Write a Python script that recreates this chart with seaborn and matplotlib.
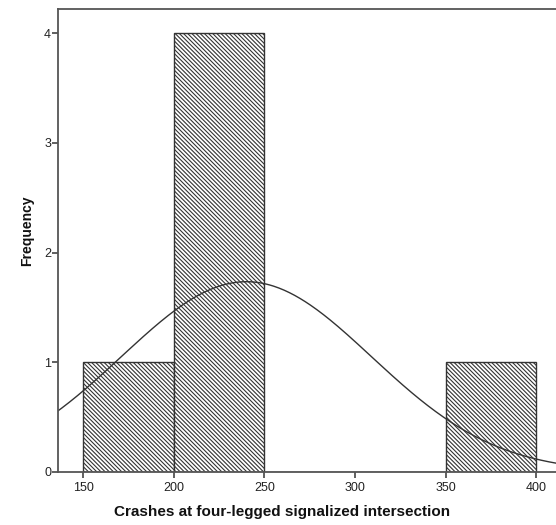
import numpy as np
import pandas as pd
import matplotlib
matplotlib.use("Agg")
import matplotlib.pyplot as plt
import seaborn as sns

# Data
bin_edges = [150, 200, 250, 300, 350, 400]
bin_centers = [175, 225, 275, 325, 375]
counts = [1, 4, 0, 0, 1]
fit_mean = 240.0
fit_sd = 69.0
n_total = 6
x_ticks = [150, 200, 250, 300, 350, 400]
y_ticks = [0, 1, 2, 3, 4]
x_label = "Crashes at four-legged signalized intersection"
y_label = "Frequency"

sns.set_theme(style="ticks")
plt.rcParams['font.family'] = ['Liberation Sans', 'DejaVu Sans']
plt.rcParams['hatch.linewidth'] = 0.8
plt.rcParams['hatch.color'] = '#303030'

fig = plt.figure(figsize=(5.56, 5.25), dpi=100)
ax = fig.add_axes([58 / 556, 53 / 525, 1 - 58 / 556 + 0.01, (472 - 9) / 525])

df = pd.DataFrame({"x": bin_centers, "w": counts})
sns.histplot(data=df, x="x", weights="w", bins=bin_edges, ax=ax,
             color="white", edgecolor="#333333", linewidth=1.0, alpha=1,
             hatch="\\" * 8)

xs = np.linspace(130, 420, 400)
binw = bin_edges[1] - bin_edges[0]
ys = n_total * binw / (fit_sd * np.sqrt(2 * np.pi)) * np.exp(-0.5 * ((xs - fit_mean) / fit_sd) ** 2)
sns.lineplot(x=xs, y=ys, ax=ax, color="#333333", linewidth=1.0)

ax.set_xlim(136, 414)
ax.set_ylim(0, 4.22)
ax.set_xticks(x_ticks)
ax.set_yticks(y_ticks)
ax.tick_params(axis='both', bottom=True, left=True, length=4, width=1.2, color='#444444',
               labelsize=9, labelcolor='#222222', pad=1, direction='out')
ax.tick_params(axis='x', pad=3)
for s in ['left', 'top', 'bottom']:
    ax.spines[s].set_visible(True)
    ax.spines[s].set_color('#555555')
    ax.spines[s].set_linewidth(1.3)
ax.spines['right'].set_visible(False)

ax.set_xlabel(x_label, fontsize=11, fontweight='bold', color='#111111', labelpad=8)
ax.set_ylabel(y_label, fontsize=10, fontweight='bold', color='#111111', labelpad=7.5)
ax.xaxis.label.set_x(0.445)
ax.yaxis.label.set_y(0.52)

fig.savefig("out.png", dpi=100)
